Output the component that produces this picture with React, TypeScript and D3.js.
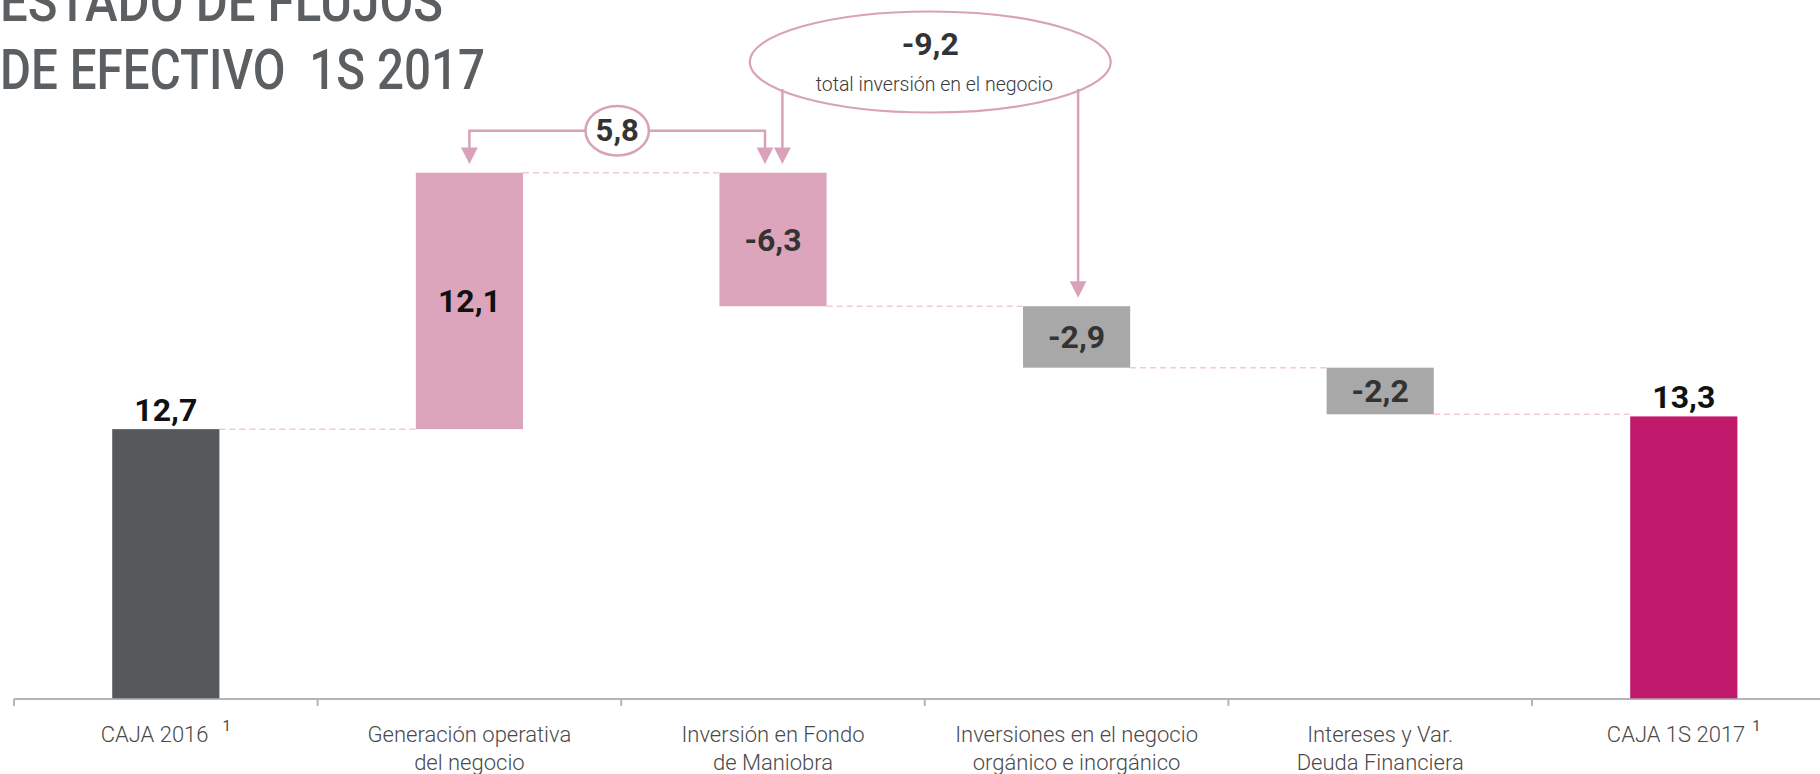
import React from "react";
import * as d3 from "d3";

// Cash-flow waterfall, first half 2017 (millions)
const titleLines = ["ESTADO DE FLUJOS", "DE EFECTIVO\u00a0\u00a01S 2017"];
const categories = [
  "CAJA 2016",
  "Generación operativa del negocio",
  "Inversión en Fondo de Maniobra",
  "Inversiones en el negocio orgánico e inorgánico",
  "Intereses y Var. Deuda Financiera",
  "CAJA 1S 2017",
];
const categoryLines = [
  ["CAJA 2016"],
  ["Generación operativa", "del negocio"],
  ["Inversión en Fondo", "de Maniobra"],
  ["Inversiones en el negocio", "orgánico e inorgánico"],
  ["Intereses y Var.", "Deuda Financiera"],
  ["CAJA 1S 2017"],
];
const footnotes = ["1", "", "", "", "", "1"];
const values = [12.7, 12.1, -6.3, -2.9, -2.2, 13.3];
const barKinds = ["total", "delta", "delta", "delta", "delta", "total"];
// grouped sub-totals shown as call-outs: [first index, last index]
const operatingGroup = [1, 2];
const investmentGroup = [2, 3];
const investmentNote = "total inversión en el negocio";

const W = 1820;
const H = 774;
const FONT = "Roboto, 'DejaVu Sans', sans-serif";
const barColors = ["#55595c", "#dca5bb", "#dca5bb", "#a8a8a9", "#a8a8a9", "#c0186b"];
const labelColors = ["#111", "#111", "#333", "#333", "#333", "#111"];
const PINK = "#d9a2b8";
const CONNECTOR = "#f2c9d7";

const fmt = (v: number) => (v < 0 ? "-" : "") + Math.abs(v).toFixed(1).replace(".", ",");

export default function App() {
  // waterfall segments
  let running = 0;
  const bars = values.map((v, i) => {
    if (barKinds[i] === "total") {
      running = v;
      return { i, v, lo: 0, hi: v, end: v };
    }
    const start = running;
    running = start + v;
    return { i, v, lo: Math.min(start, running), hi: Math.max(start, running), end: running };
  });

  const x = d3
    .scaleBand<string>()
    .domain(categories)
    .range([14, 14 + 6 * 303.6])
    .paddingInner(0.647)
    .paddingOuter(0.3235);
  const bw = x.bandwidth();
  const step = x.step();
  const cx = (i: number) => (x(categories[i]) as number) + bw / 2;

  const y = d3
    .scaleLinear()
    .domain([0, d3.max(bars, (b) => b.hi) as number])
    .range([698.3, 172.7]);

  const axisY = 699;

  // call-out sums
  const opSum = d3.sum(operatingGroup.map((k) => values[k]));
  const invSum = d3.sum(investmentGroup.map((k) => values[k]));

  const arrowTip = (bi: number) => y(bars[bi].hi) - 8.6;
  const opLeftX = cx(operatingGroup[0]);
  const opRightX = cx(operatingGroup[1]) - 8;
  const opLineY = arrowTip(operatingGroup[0]) - 33.3;
  const opCx = (opLeftX + opRightX) / 2;

  const invLeftX = cx(investmentGroup[0]) + 9.4;
  const invRightX = cx(investmentGroup[1]) + 1.5;
  const ell = { cx: (invLeftX + invRightX) / 2, cy: 62, rx: 180.5, ry: 50.5 };
  const ellY = (px: number) => {
    const t = (px - ell.cx) / ell.rx;
    return ell.cy + ell.ry * Math.sqrt(Math.max(0, 1 - t * t)) - 2;
  };

  const arrow = (px: number, tip: number, key: string) => (
    <path
      key={key}
      d={`M${px},${tip} L${px - 8.4},${tip - 16.6} L${px + 8.4},${tip - 16.6} Z`}
      fill={PINK}
    />
  );

  return (
    <svg
      width={W}
      height={H}
      style={{ position: "absolute", left: 0, top: 0, background: "#fff" }}
      fontFamily={FONT}
    >
      {/* title */}
      <g fill="#5b5f62" fontSize={55} fontWeight={500}>
        <text x={0} y={20.7} textLength={443} lengthAdjust="spacingAndGlyphs">
          {titleLines[0]}
        </text>
        <text x={0} y={89.3} textLength={485} lengthAdjust="spacingAndGlyphs">
          {titleLines[1]}
        </text>
      </g>

      {/* axis */}
      <line x1={14} x2={W} y1={axisY} y2={axisY} stroke="#b5b5b5" strokeWidth={2} />
      {categories.map((c, i) => {
        const bx = cx(i) - step / 2;
        return <line key={c} x1={bx} x2={bx} y1={axisY} y2={axisY + 7} stroke="#b5b5b5" strokeWidth={2} />;
      })}

      {/* connectors */}
      {bars.slice(0, -1).map((b, i) => (
        <line
          key={`c${i}`}
          x1={cx(i) + bw / 2}
          x2={cx(i + 1) - bw / 2}
          y1={y(b.end)}
          y2={y(b.end)}
          stroke={CONNECTOR}
          strokeWidth={1.5}
          strokeDasharray="6 4"
        />
      ))}

      {/* bars */}
      {bars.map((b) => (
        <rect
          key={`b${b.i}`}
          x={x(categories[b.i])}
          width={bw}
          y={y(b.hi)}
          height={y(b.lo) - y(b.hi)}
          fill={barColors[b.i]}
        />
      ))}

      {/* value labels */}
      {bars.map((b) => {
        const total = barKinds[b.i] === "total";
        const ty = total ? y(b.hi) - 8.5 : (y(b.hi) + y(b.lo)) / 2 + 11.5;
        return (
          <text
            key={`v${b.i}`}
            x={cx(b.i)}
            y={ty}
            textAnchor="middle"
            fontSize={32}
            fontWeight={700}
            fill={labelColors[b.i]}
          >
            {fmt(b.v)}
          </text>
        );
      })}

      {/* operating call-out */}
      <g>
        <path
          d={`M${opLeftX},${arrowTip(operatingGroup[0]) - 14} V${opLineY} H${opRightX} V${arrowTip(operatingGroup[1]) - 14}`}
          fill="none"
          stroke={PINK}
          strokeWidth={2.5}
        />
        {arrow(opLeftX, arrowTip(operatingGroup[0]), "a1")}
        {arrow(opRightX, arrowTip(operatingGroup[1]), "a2")}
        <ellipse cx={opCx} cy={opLineY} rx={31.7} ry={24.8} fill="#fff" stroke={PINK} strokeWidth={2.5} />
        <text x={opCx} y={opLineY + 10.5} textAnchor="middle" fontSize={31} fontWeight={700} fill="#333">
          {fmt(opSum)}
        </text>
      </g>

      {/* investment call-out */}
      <g>
        <line x1={invLeftX} x2={invLeftX} y1={ellY(invLeftX)} y2={arrowTip(investmentGroup[0]) - 14} stroke={PINK} strokeWidth={2.5} />
        <line x1={invRightX} x2={invRightX} y1={ellY(invRightX)} y2={arrowTip(investmentGroup[1]) - 14} stroke={PINK} strokeWidth={2.5} />
        {arrow(invLeftX, arrowTip(investmentGroup[0]), "a3")}
        {arrow(invRightX, y(bars[investmentGroup[1]].hi) - 8.4, "a4")}
        <ellipse cx={ell.cx} cy={ell.cy} rx={ell.rx} ry={ell.ry} fill="none" stroke={PINK} strokeWidth={2.2} />
        <text x={ell.cx} y={ell.cy - 7} textAnchor="middle" fontSize={32} fontWeight={700} fill="#333">
          {fmt(invSum)}
        </text>
        <text x={ell.cx + 4} y={ell.cy + 28.7} textAnchor="middle" fontSize={19.5} fontWeight={300} fill="#3a3a3a">
          {investmentNote}
        </text>
      </g>

      {/* category labels */}
      {categoryLines.map((lines, i) => (
        <text
          key={`l${i}`}
          x={cx(i)}
          textAnchor="middle"
          fontSize={22}
          fontWeight={300}
          fill="#4a4a4a"
        >
          {lines.map((ln, k) => (
            <tspan key={k} x={cx(i)} y={742 + k * 27.6}>
              {ln}
            </tspan>
          ))}
          {footnotes[i] ? (
            <tspan dx={i === 0 ? 14 : 7} dy={-11} fontSize={15} fontWeight={400}>
              {footnotes[i]}
            </tspan>
          ) : null}
        </text>
      ))}
    </svg>
  );
}
